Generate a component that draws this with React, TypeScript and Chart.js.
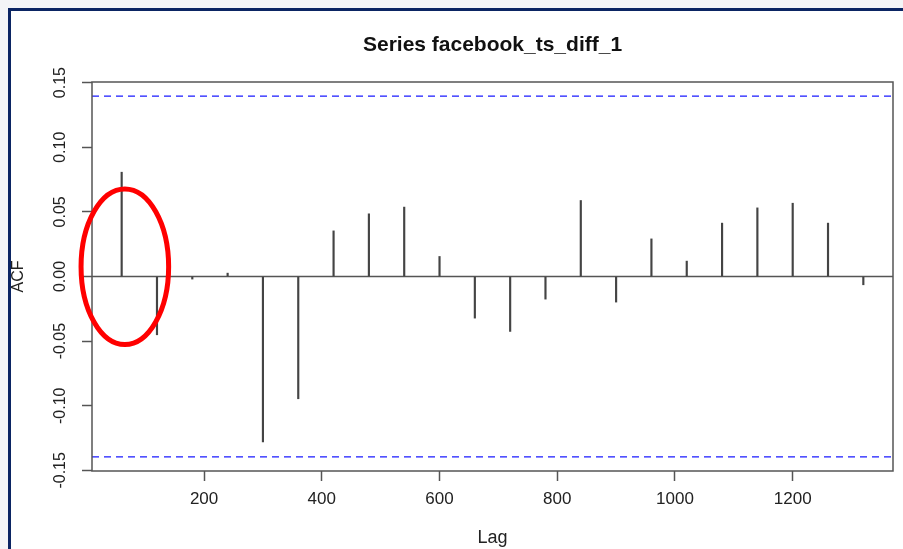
import React, { useEffect, useRef } from 'react';
import { Chart, registerables } from 'chart.js';

Chart.register(...registerables);

const TITLE = 'Series facebook_ts_diff_1';
const X_TITLE = 'Lag';
const Y_TITLE = 'ACF';

const LAGS = [60, 120, 180, 240, 300, 360, 420, 480, 540, 600, 660, 720, 780, 840, 900, 960, 1020, 1080, 1140, 1200, 1260, 1320];
const ACF_VALUES = [0.0807, -0.0451, -0.002, 0.0026, -0.128, -0.0946, 0.0353, 0.0485, 0.0537, 0.0155, -0.0322, -0.0425, -0.0175, 0.0588, -0.0198, 0.0291, 0.0119, 0.0413, 0.0531, 0.0567, 0.0413, -0.0064];
const CONF_LIMIT = 0.1395;

const X_TICKS = [200, 400, 600, 800, 1000, 1200];
const Y_TICKS = [-0.15, -0.1, -0.05, 0, 0.05, 0.1, 0.15];
const X_MIN = 9.6;
const X_MAX = 1370.4;
const Y_MIN = -0.1505;
const Y_MAX = 0.1505;

// red highlight ellipse (data coordinates)
const HIGHLIGHT_LAG = 65.4;
const HIGHLIGHT_ACF = 0.0075;
const HIGHLIGHT_LAG_RADIUS = 74.4;
const HIGHLIGHT_ACF_RADIUS = 0.0602;

const FONT = "'Liberation Sans', Arial, Helvetica, sans-serif";

const decorPlugin = {
  id: 'decor',
  beforeDraw(chart: any) {
    const { ctx, width, height } = chart;
    ctx.save();
    ctx.fillStyle = '#ffffff';
    ctx.fillRect(0, 0, width, height);
    ctx.fillStyle = '#f4f5f7';
    ctx.fillRect(0, 0, 8, height);
    ctx.fillRect(0, 0, width, 8);
    ctx.strokeStyle = '#0b2563';
    ctx.lineWidth = 3;
    ctx.beginPath();
    ctx.moveTo(9.5, height);
    ctx.lineTo(9.5, 9.5);
    ctx.lineTo(width, 9.5);
    ctx.stroke();
    ctx.restore();
  },
  beforeDatasetsDraw(chart: any) {
    const { ctx, chartArea, scales } = chart;
    const { left, right } = chartArea;
    ctx.save();
    // zero line
    const y0 = scales.y.getPixelForValue(0);
    ctx.strokeStyle = '#555555';
    ctx.lineWidth = 1.5;
    ctx.beginPath();
    ctx.moveTo(left, y0);
    ctx.lineTo(right, y0);
    ctx.stroke();
    // confidence limits
    ctx.strokeStyle = '#1a1aff';
    ctx.lineWidth = 1.2;
    ctx.setLineDash([7, 5]);
    for (const v of [CONF_LIMIT, -CONF_LIMIT]) {
      const yy = scales.y.getPixelForValue(v);
      ctx.beginPath();
      ctx.moveTo(left, yy);
      ctx.lineTo(right, yy);
      ctx.stroke();
    }
    ctx.restore();
  },
  afterDraw(chart: any) {
    const { ctx, chartArea, scales } = chart;
    ctx.save();
    // plot box
    ctx.strokeStyle = '#555555';
    ctx.lineWidth = 1.5;
    ctx.strokeRect(chartArea.left, chartArea.top, chartArea.right - chartArea.left, chartArea.bottom - chartArea.top);
    // highlight ellipse
    const cx = scales.x.getPixelForValue(HIGHLIGHT_LAG);
    const cy = scales.y.getPixelForValue(HIGHLIGHT_ACF);
    const rx = Math.abs(scales.x.getPixelForValue(HIGHLIGHT_LAG + HIGHLIGHT_LAG_RADIUS) - cx);
    const ry = Math.abs(scales.y.getPixelForValue(HIGHLIGHT_ACF + HIGHLIGHT_ACF_RADIUS) - cy);
    ctx.strokeStyle = '#ff0000';
    ctx.lineWidth = 5;
    ctx.beginPath();
    ctx.ellipse(cx, cy, rx, ry, 0, 0, Math.PI * 2);
    ctx.stroke();
    ctx.restore();
  },
};

export default function App() {
  const canvasRef = useRef<HTMLCanvasElement | null>(null);

  useEffect(() => {
    if (!canvasRef.current) return;
    const chart = new Chart(canvasRef.current, {
      type: 'bar',
      data: {
        datasets: [
          {
            label: 'ACF',
            data: LAGS.map((l, i) => ({ x: l, y: ACF_VALUES[i] })),
            backgroundColor: '#444444',
            borderWidth: 0,
            barThickness: 1.5,
          },
        ],
      },
      options: {
        responsive: false,
        animation: false,
        devicePixelRatio: 1,
        layout: { padding: { left: 0, right: 10, top: 0, bottom: 0 } },
        plugins: {
          legend: { display: false },
          tooltip: { enabled: false },
          title: {
            display: true,
            text: TITLE,
            fullSize: false,
            color: '#111111',
            font: { family: FONT, size: 21, weight: 'bold', lineHeight: 1 },
            padding: { top: 35, bottom: 26 },
          },
        },
        scales: {
          x: {
            type: 'linear',
            min: X_MIN,
            max: X_MAX,
            offset: false,
            afterBuildTicks: (s: any) => {
              s.ticks = X_TICKS.map((v) => ({ value: v }));
            },
            afterFit: (s: any) => {
              s.height = 78;
            },
            grid: {
              display: true,
              offset: false,
              drawOnChartArea: false,
              drawTicks: true,
              tickLength: 10,
              tickColor: '#555555',
              tickWidth: 1.5,
            },
            border: { display: false },
            ticks: {
              autoSkip: false,
              maxRotation: 0,
              padding: 8,
              color: '#222222',
              font: { family: FONT, size: 17 },
              callback: (v: any) => String(v),
            },
            title: {
              display: true,
              text: X_TITLE,
              color: '#222222',
              font: { family: FONT, size: 18 },
              padding: { top: 0, bottom: 0 },
            },
          },
          y: {
            type: 'linear',
            min: Y_MIN,
            max: Y_MAX,
            afterBuildTicks: (s: any) => {
              s.ticks = Y_TICKS.map((v) => ({ value: v }));
            },
            afterFit: (s: any) => {
              s.width = 92;
            },
            grid: {
              display: true,
              drawOnChartArea: false,
              drawTicks: true,
              tickLength: 10,
              tickColor: '#555555',
              tickWidth: 1.5,
            },
            border: { display: false },
            ticks: {
              autoSkip: false,
              minRotation: 90,
              maxRotation: 90,
              crossAlign: 'center',
              padding: 3,
              color: '#222222',
              font: { family: FONT, size: 16 },
              callback: (v: any) => Number(v).toFixed(2),
            },
            title: {
              display: true,
              text: Y_TITLE,
              color: '#222222',
              font: { family: FONT, size: 16 },
              padding: { top: 9, bottom: 0 },
            },
          },
        },
      },
      plugins: [decorPlugin],
    } as any);
    return () => chart.destroy();
  }, []);

  return (
    <div style={{ position: 'absolute', left: 0, top: 0, width: 903, height: 549 }}>
      <canvas ref={canvasRef} width={903} height={549} />
    </div>
  );
}
